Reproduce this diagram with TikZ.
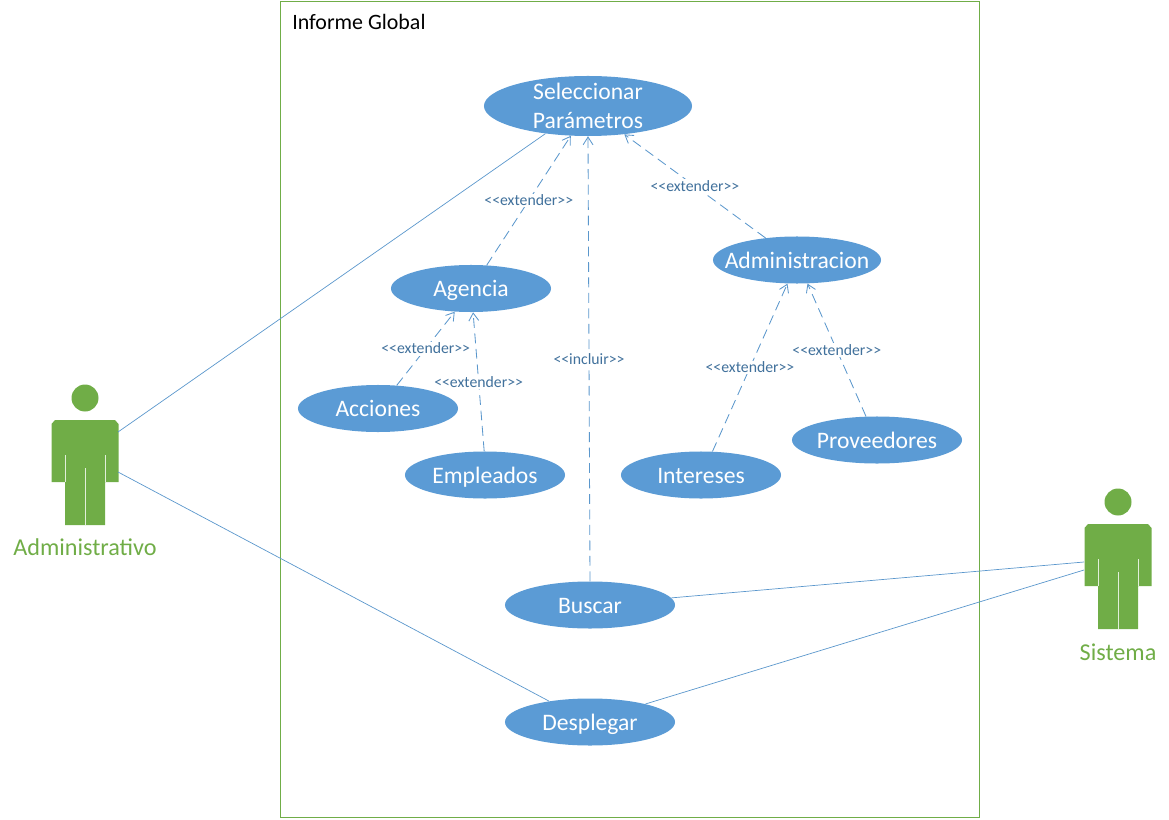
\documentclass[tikz,border=0pt]{standalone}
\usepackage{fontspec}
\setmainfont{Carlito}
\usetikzlibrary{arrows.meta,shapes.geometric}
\definecolor{casoblue}{HTML}{5B9BD5}
\definecolor{lineblue}{HTML}{5B97CC}
\definecolor{labelblue}{HTML}{41719C}
\definecolor{actorgreen}{HTML}{70AD47}
\newcommand{\extlabel}{{<}{<}extender{>}{>}}
\tikzset{
	>={Straight Barb[length=5.5pt,width=7pt]},
	usecase/.style={ellipse, fill=casoblue, text=white, inner sep=-0.5cm, minimum width=4cm, minimum height=1.175cm, text height=0.5cm, text depth=0.08cm, font=\fontsize{16.8}{20.5}\selectfont, align=center},
	assoc/.style={draw=lineblue, line width=0.5pt},
	dep/.style={draw=lineblue, line width=0.6pt, dashed, dash pattern=on 7pt off 4pt, ->},
	deplabel/.style={fill=white, text=labelblue, inner sep=1pt, font=\fontsize{11.2}{13}\selectfont},
	actorlabel/.style={text=actorgreen, font=\fontsize{17.2}{20}\selectfont},
	actor/.pic={
		\fill[actorgreen] (0,0) circle (13.5);
		\fill[actorgreen] (-30,22) -- (30,22) -- (33.5,26) -- (33.5,84) -- (20,84) -- (20,127) -- (-20,127) -- (-20,84) -- (-33.5,84) -- (-33.5,26) -- cycle;
		\draw[white!80!actorgreen, line width=0.6pt] (-20,57) -- (-20,84) (20,57) -- (20,84) (0,70) -- (0,127);
		\coordinate (-upper) at (33,34);
		\coordinate (-lower) at (33,74);
		\coordinate (-left a) at (-34,60);
		\coordinate (-left b) at (-34,68);
	},
}

\begin{document}
\begin{tikzpicture}[x=0.025cm, y=-0.025cm]
	\useasboundingbox (0,0) rectangle (1169,820);
	\node[draw=actorgreen, line width=0.6pt, minimum width=17.46cm, minimum height=20.4cm, inner sep=0pt] (frame) at (629.7,409.8) {};
	\node[anchor=west, inner sep=0pt, font=\fontsize{15.6}{18}\selectfont] (title) at (292,22) {Informe Global};

	\node[usecase, minimum width=5.2cm, minimum height=1.5cm, text height=, text depth=] (params) at (588,106) {Seleccionar\\Parámetros};
	\node[usecase] (agencia) at (471,288.5) {Agencia};
	\node[usecase] (acciones) at (378,408.5) {Acciones};
	\node[usecase] (empleados) at (485,475) {Empleados};
	\node[usecase, minimum width=4.2cm] (administracion) at (797,260) {Administracion};
	\node[usecase, minimum width=4.25cm] (proveedores) at (877,440) {Proveedores};
	\node[usecase] (intereses) at (701,475) {Intereses};
	\node[usecase, minimum width=4.25cm] (buscar) at (590,605) {Buscar};
	\node[usecase, minimum width=4.25cm] (desplegar) at (590,722) {Desplegar};

	\pic (admin) at (85,398) {actor};
	\pic (sistema) at (1118,502) {actor};
	\node[actorlabel] (adminlabel) at (85,547) {Administrativo};
	\node[actorlabel] (sistemalabel) at (1118,652) {Sistema};

	\draw[assoc] (admin-upper) -- (params.213);
	\draw[assoc] (admin-lower) -- (desplegar.153);
	\draw[assoc] (buscar.5) -- (sistema-left a);
	\draw[assoc] (desplegar.18) -- (sistema-left b);

	\draw[dep] (agencia.56) -- node[midway, deplabel] {\extlabel} (params.240);
	\draw[dep] (administracion.145) -- node[midway, deplabel] {\extlabel} (params.322);
	\draw[dep] (buscar.90) -- node[midway, deplabel] {{<}{<}incluir{>}{>}} (params.270);
	\draw[dep] (acciones.51) -- node[midway, deplabel] {\extlabel} (agencia.235);
	\draw[dep] (empleados.92) -- node[midway, deplabel] {\extlabel} (agencia.275);
	\draw[dep] (intereses.64) -- node[midway, deplabel] {\extlabel} (administracion.248);
	\draw[dep] (proveedores.115) -- node[midway, deplabel] {\extlabel} (administracion.294);
\end{tikzpicture}
\end{document}
